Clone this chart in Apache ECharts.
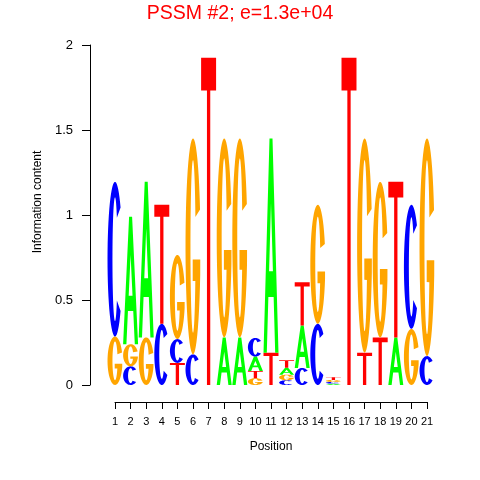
<!DOCTYPE html>
<html><head><meta charset="utf-8">
<script src="https://cdn.jsdelivr.net/npm/echarts@6/dist/echarts.min.js"></script>
<style>html,body{margin:0;padding:0;background:#fff}#c{width:480px;height:480px}</style>
</head><body><div id="c"></div>
<script>
// ---- data (information content contributed by each base at each position) ----
const positions = [1,2,3,4,5,6,7,8,9,10,11,12,13,14,15,16,17,18,19,20,21];
const letters = ['A','C','G','T'];
const heightA = [0, 0.75, 0.915, 0, 0, 0, 0, 0.28, 0.28, 0.085, 1.26, 0.04, 0.25, 0, 0.008, 0, 0, 0, 0.28, 0, 0];
const heightC = [0.91, 0.11, 0, 0.36, 0.14, 0.18, 0, 0, 0, 0.11, 0, 0.028, 0.1, 0.36, 0.01, 0, 0, 0, 0, 0.73, 0.17];
const heightG = [0.285, 0.13, 0.28, 0, 0.495, 1.27, 0, 1.17, 1.17, 0.04, 0, 0.033, 0, 0.70, 0.012, 0, 1.26, 0.915, 0, 0.33, 1.28];
const heightT = [0, 0, 0, 0.70, 0.13, 0, 1.925, 0, 0, 0.042, 0.19, 0.045, 0.255, 0, 0.015, 1.925, 0.19, 0.28, 0.915, 0, 0];
const yTicks = [0, 0.5, 1, 1.5, 2];
const titleText = 'PSSM #2; e=1.3e+04';
const xName = 'Position';
const yName = 'Information content';

const letterColors = {A: '#00FF00', C: '#0000FF', G: '#FFA500', T: '#FF0000'};
const FONT = '"Liberation Sans", Arial, Helvetica, sans-serif';

// ---- glyph outlines in a unit box (x right, y down) ----
function arc(cx, cy, rx, ry, a0, a1, n) {
  const pts = [];
  for (let i = 0; i <= n; i++) {
    const a = (a0 + (a1 - a0) * i / n) * Math.PI / 180;
    pts.push([cx + rx * Math.cos(a), cy - ry * Math.sin(a)]);
  }
  return pts;
}
const GLYPHS = {
  A: [
    [[0,1],[0.4,0],[0.6,0],[1,1],[0.78,1],[0.676,0.74],[0.324,0.74],[0.22,1]],
    [[0.372,0.62],[0.628,0.62],[0.5,0.3]]
  ],
  C: [
    arc(0.5,0.5,0.5,0.5,42,318,48).concat(arc(0.5,0.5,0.17,0.4,318,42,48))
  ],
  G: [
    arc(0.5,0.5,0.5,0.5,20,345,48)
      .concat([[0.985,0.56],[0.48,0.56],[0.48,0.66]])
      .concat(arc(0.5,0.5,0.17,0.4,-23.6,-340,48))
  ],
  T: [
    [[0,0],[1,0],[1,0.1],[0.61,0.1],[0.61,1],[0.39,1],[0.39,0.1],[0,0.1]]
  ]
};

// ---- stacks: smallest at bottom ----
const heightsByLetter = {A: heightA, C: heightC, G: heightG, T: heightT};
const stackData = [];
positions.forEach((p, i) => {
  const col = letters.map((L, li) => ({li: li, h: heightsByLetter[L][i]}))
    .filter(o => o.h > 0)
    .sort((a, b) => a.h - b.h);
  let base = 0;
  col.forEach(o => {
    stackData.push([p, base, base + o.h, o.li]);
    base += o.h;
  });
});

const chart = echarts.init(document.getElementById('c'), null, {renderer: 'canvas'});
chart.setOption({
  animation: false,
  backgroundColor: '#fff',
  title: {
    text: titleText, left: 'center', top: -1,
    textStyle: {color: '#FF0000', fontSize: 19.5, fontWeight: 'normal', fontFamily: FONT}
  },
  grid: {left: 115, right: 53, top: 45, bottom: 95, containLabel: false},
  xAxis: {
    type: 'value', min: 1, max: 21, interval: 1, offset: 17,
    axisLine: {show: true, onZero: false, lineStyle: {color: '#000', width: 1}},
    axisTick: {show: true, length: 7, lineStyle: {color: '#000'}},
    axisLabel: {color: '#000', fontSize: 11, margin: 14, fontFamily: FONT, showMinLabel: true, showMaxLabel: true},
    splitLine: {show: false},
    name: xName, nameLocation: 'middle', nameGap: 39,
    nameTextStyle: {color: '#000', fontSize: 12, fontFamily: FONT}
  },
  yAxis: {
    type: 'value', min: yTicks[0], max: yTicks[yTicks.length - 1], interval: 0.5, offset: 25,
    axisLine: {show: true, onZero: false, lineStyle: {color: '#000', width: 1}},
    axisTick: {show: true, length: 8, lineStyle: {color: '#000'}},
    axisLabel: {color: '#000', fontSize: 13, margin: 17, fontFamily: FONT},
    splitLine: {show: false}
  },
  graphic: [{
    type: 'text', x: 38, y: 202, rotation: Math.PI / 2,
    style: {text: yName, fill: '#000', font: '12px ' + FONT, textAlign: 'center', textVerticalAlign: 'middle'}
  }],
  series: [{
    type: 'custom',
    clip: false,
    data: stackData,
    encode: {x: 0, y: [1, 2]},
    renderItem: function (params, api) {
      const p = api.value(0), y0 = api.value(1), y1 = api.value(2), li = api.value(3);
      const tl = api.coord([p - 0.48, y1]);
      const br = api.coord([p + 0.48, y0]);
      const w = br[0] - tl[0], h = br[1] - tl[1];
      const L = letters[li];
      let d = '';
      GLYPHS[L].forEach(c => {
        c.forEach((pt, i) => {
          d += (i ? 'L' : 'M') + (tl[0] + pt[0] * w).toFixed(2) + ' ' + (tl[1] + pt[1] * h).toFixed(2);
        });
        d += 'Z';
      });
      return {type: 'path', shape: {pathData: d}, style: {fill: letterColors[L], stroke: null}};
    }
  }]
});
</script>
</body></html>
